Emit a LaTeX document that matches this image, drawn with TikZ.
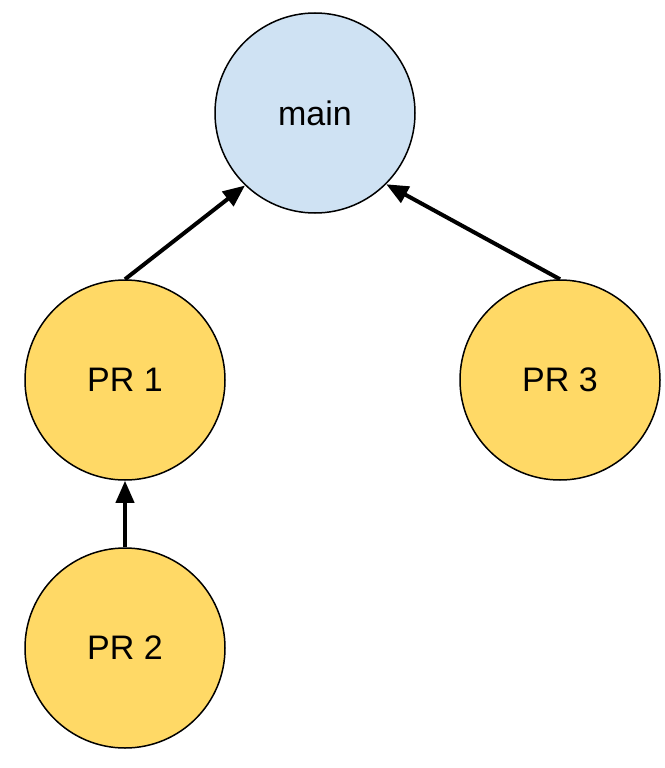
\documentclass[tikz,border=0pt]{standalone}
\usepackage{fontspec}
\setmainfont{Liberation Sans}
\usetikzlibrary{arrows.meta}
\definecolor{mainblue}{HTML}{CFE2F3}
\definecolor{pryellow}{HTML}{FFD966}
\begin{document}
\begin{tikzpicture}[x=1pt,y=-1pt,
  circ/.style={circle, draw=black, line width=1.5pt, minimum size=200pt, inner sep=0pt,
    font=\fontsize{34}{40}\selectfont},
  conn/.style={line width=4pt, -{Triangle[length=22pt,width=18pt]}}]
\useasboundingbox (0,0) rectangle (664,768);
\node[circ, fill=mainblue] (main) at (315,113) {main};
\node[circ, fill=pryellow] (pr1) at (125,380) {PR 1};
\node[circ, fill=pryellow] (pr3) at (560,380) {PR 3};
\node[circ, fill=pryellow] (pr2) at (125,648) {PR 2};
\draw[conn] (pr1.north) -- (main.226);
\draw[conn] (pr3.north) -- (main.315);
\draw[conn] (pr2.north) -- (pr1.south);
\end{tikzpicture}
\end{document}
